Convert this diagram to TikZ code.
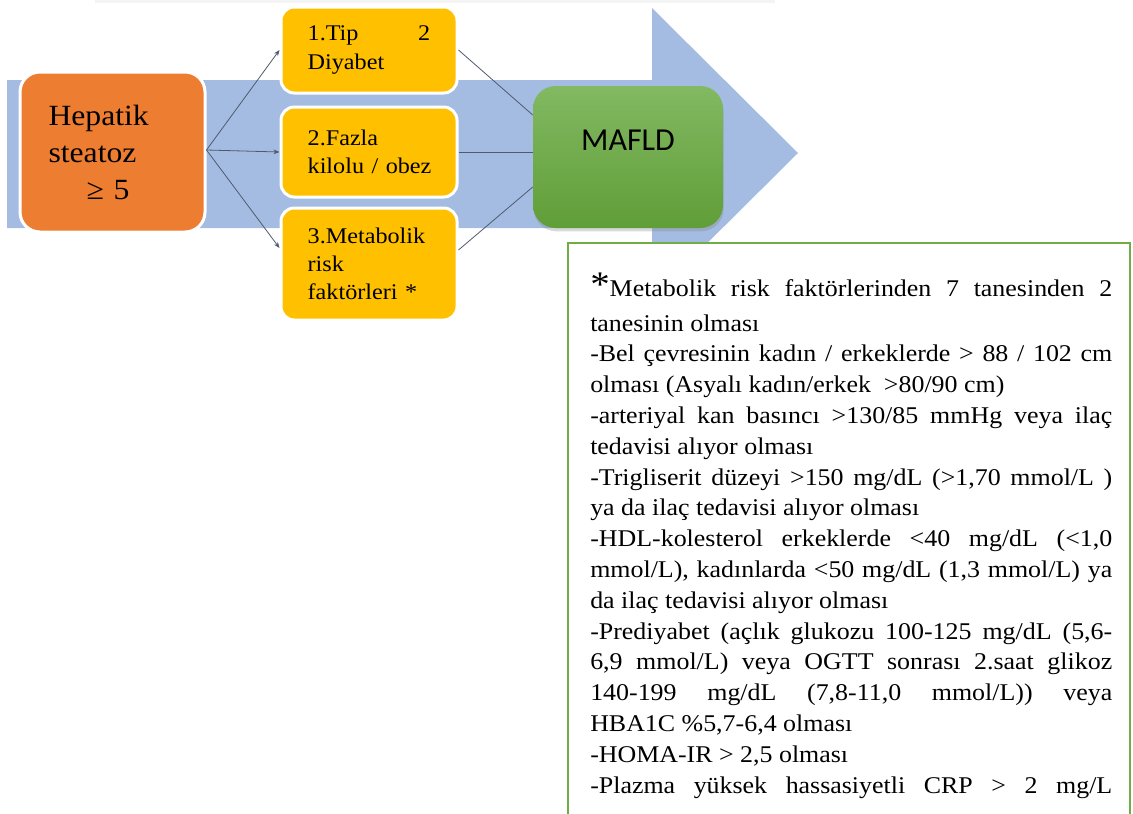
\documentclass[tikz,border=0pt]{standalone}
\usepackage{fontspec}
\setmainfont{Liberation Serif}[FakeStretch=1.08]
\newfontfamily\calib{Carlito}
\usetikzlibrary{arrows.meta,shadows,calc}

\definecolor{arrowblue}{RGB}{164,188,226}
\definecolor{hepor}{RGB}{237,125,49}
\definecolor{critY}{RGB}{255,192,0}
\definecolor{mafTop}{RGB}{130,185,98}
\definecolor{mafBot}{RGB}{96,158,56}
\definecolor{boxgreen}{RGB}{112,173,71}
\definecolor{linkgray}{RGB}{80,90,110}

\begin{document}
\begin{tikzpicture}[x=0.75pt,y=-0.75pt,
  hepbox/.style={draw=white, line width=2.25pt, fill=hepor, rounded corners=15pt,
    minimum width=138.75pt, minimum height=120pt, text width=96pt, align=left,
    inner sep=0pt, font=\fontsize{22pt}{27.75pt}\selectfont},
  critbox/.style={draw=white, line width=2.25pt, fill=critY, rounded corners=10pt,
    minimum width=132pt, text width=92pt, align=left, inner sep=0pt,
    font=\fontsize{16.8pt}{21pt}\selectfont},
  mafbox/.style={rounded corners=17pt, top color=mafTop, bottom color=mafBot,
    minimum width=142.5pt, minimum height=106.5pt, inner sep=0pt,
    text height=15pt, text depth=25.5pt,
    font=\calib\fontsize{24pt}{28pt}\selectfont,
    drop shadow={opacity=0.3, shadow xshift=0.5pt, shadow yshift=-2.5pt}},
  link/.style={draw=linkgray, line width=0.6pt},
  linkarrow/.style={link, -{Stealth[length=4.5pt,width=3.5pt]}}
]
\useasboundingbox (0,0) rectangle (1133,814);
\clip (0,0) rectangle (1133,814);

% faint band along the top edge
\fill[gray!9] (95,0) rectangle (775,3);

% broad background arrow
\fill[arrowblue] (7,80) -- (652,80) -- (652,8) -- (798,153) -- (652,298)
  -- (652,228) -- (7,228) -- cycle;

% boxes
\node[hepbox] (hep) at (112.5,152) {Hepatik\\steatoz\\\hspace*{28.5pt}≥ 5};
\node[critbox, minimum height=64.5pt] (y1) at (369,50) {1.Tip\hfill 2\\Diyabet};
\node[critbox, minimum height=67.5pt] (y2) at (369,152) {2.Fazla\\\mbox{kilolu / obez}};
\node[critbox, minimum height=84pt] (y3) at (369,264) {3.Metabolik\\risk\\faktörleri *};
\node[mafbox] (maf) at (628,157) {MAFLD};

% connectors
\draw[linkarrow] ([yshift=1.5pt]hep.east) -- (y1.west);
\draw[linkarrow] ([yshift=1.5pt]hep.east) -- (y2.west);
\draw[linkarrow] ([yshift=1.5pt]hep.east) -- ([yshift=12pt]y3.west);
\draw[link] (y1.east) -- ([yshift=31.5pt]maf.west);
\draw[link] (y2.east) -- (maf.west |- y2.east);
\draw[link] ([yshift=10.5pt]y3.east) -- ([yshift=-22.5pt]maf.west);

% footnote frame with the list of metabolic risk factors
\draw[boxgreen, line width=1.9pt, fill=white] (568,243) rectangle (1130,840);
\node[anchor=base west, inner sep=0pt] (criteria) at (590,296) {%
\begin{minipage}[t]{391.5pt}
\fontsize{18pt}{23.1pt}\selectfont
\setlength{\parindent}{0pt}\setlength{\parskip}{0pt}%
\tolerance=10000 \hyphenpenalty=10000 \exhyphenpenalty=10000
\hbadness=10000 \hfuzz=8pt
{\parfillskip=0pt {\fontsize{27pt}{27pt}\selectfont *}Metabolik risk faktörlerinden 7 tanesinden 2\par}
\vspace{3.15pt}
tanesinin olması\\
-Bel çevresinin kadın / erkeklerde > 88 / 102 cm\linebreak
olması (Asyalı kadın/erkek\ \ >80/90 cm)\\
-arteriyal kan basıncı >130/85 mmHg veya ilaç\linebreak
tedavisi alıyor olması\\
-Trigliserit düzeyi >150 mg/dL (>1,70 mmol/L )\linebreak
ya da ilaç tedavisi alıyor olması\\
-HDL-kolesterol erkeklerde <40 mg/dL (<1,0\linebreak
mmol/L), kadınlarda <50 mg/dL (1,3 mmol/L) ya\linebreak
da ilaç tedavisi alıyor olması\\
-Prediyabet (açlık glukozu 100-125 mg/dL (5,6-\linebreak
6,9 mmol/L) veya OGTT sonrası 2.saat glikoz\linebreak
140-199 mg/dL (7,8-11,0 mmol/L)) veya\linebreak
HBA1C \%5,7-6,4 olması\\
-HOMA-IR > 2,5 olması\par
{\parfillskip=0pt -Plazma yüksek hassasiyetli CRP > 2 mg/L\par}
\end{minipage}};
\end{tikzpicture}
\end{document}
